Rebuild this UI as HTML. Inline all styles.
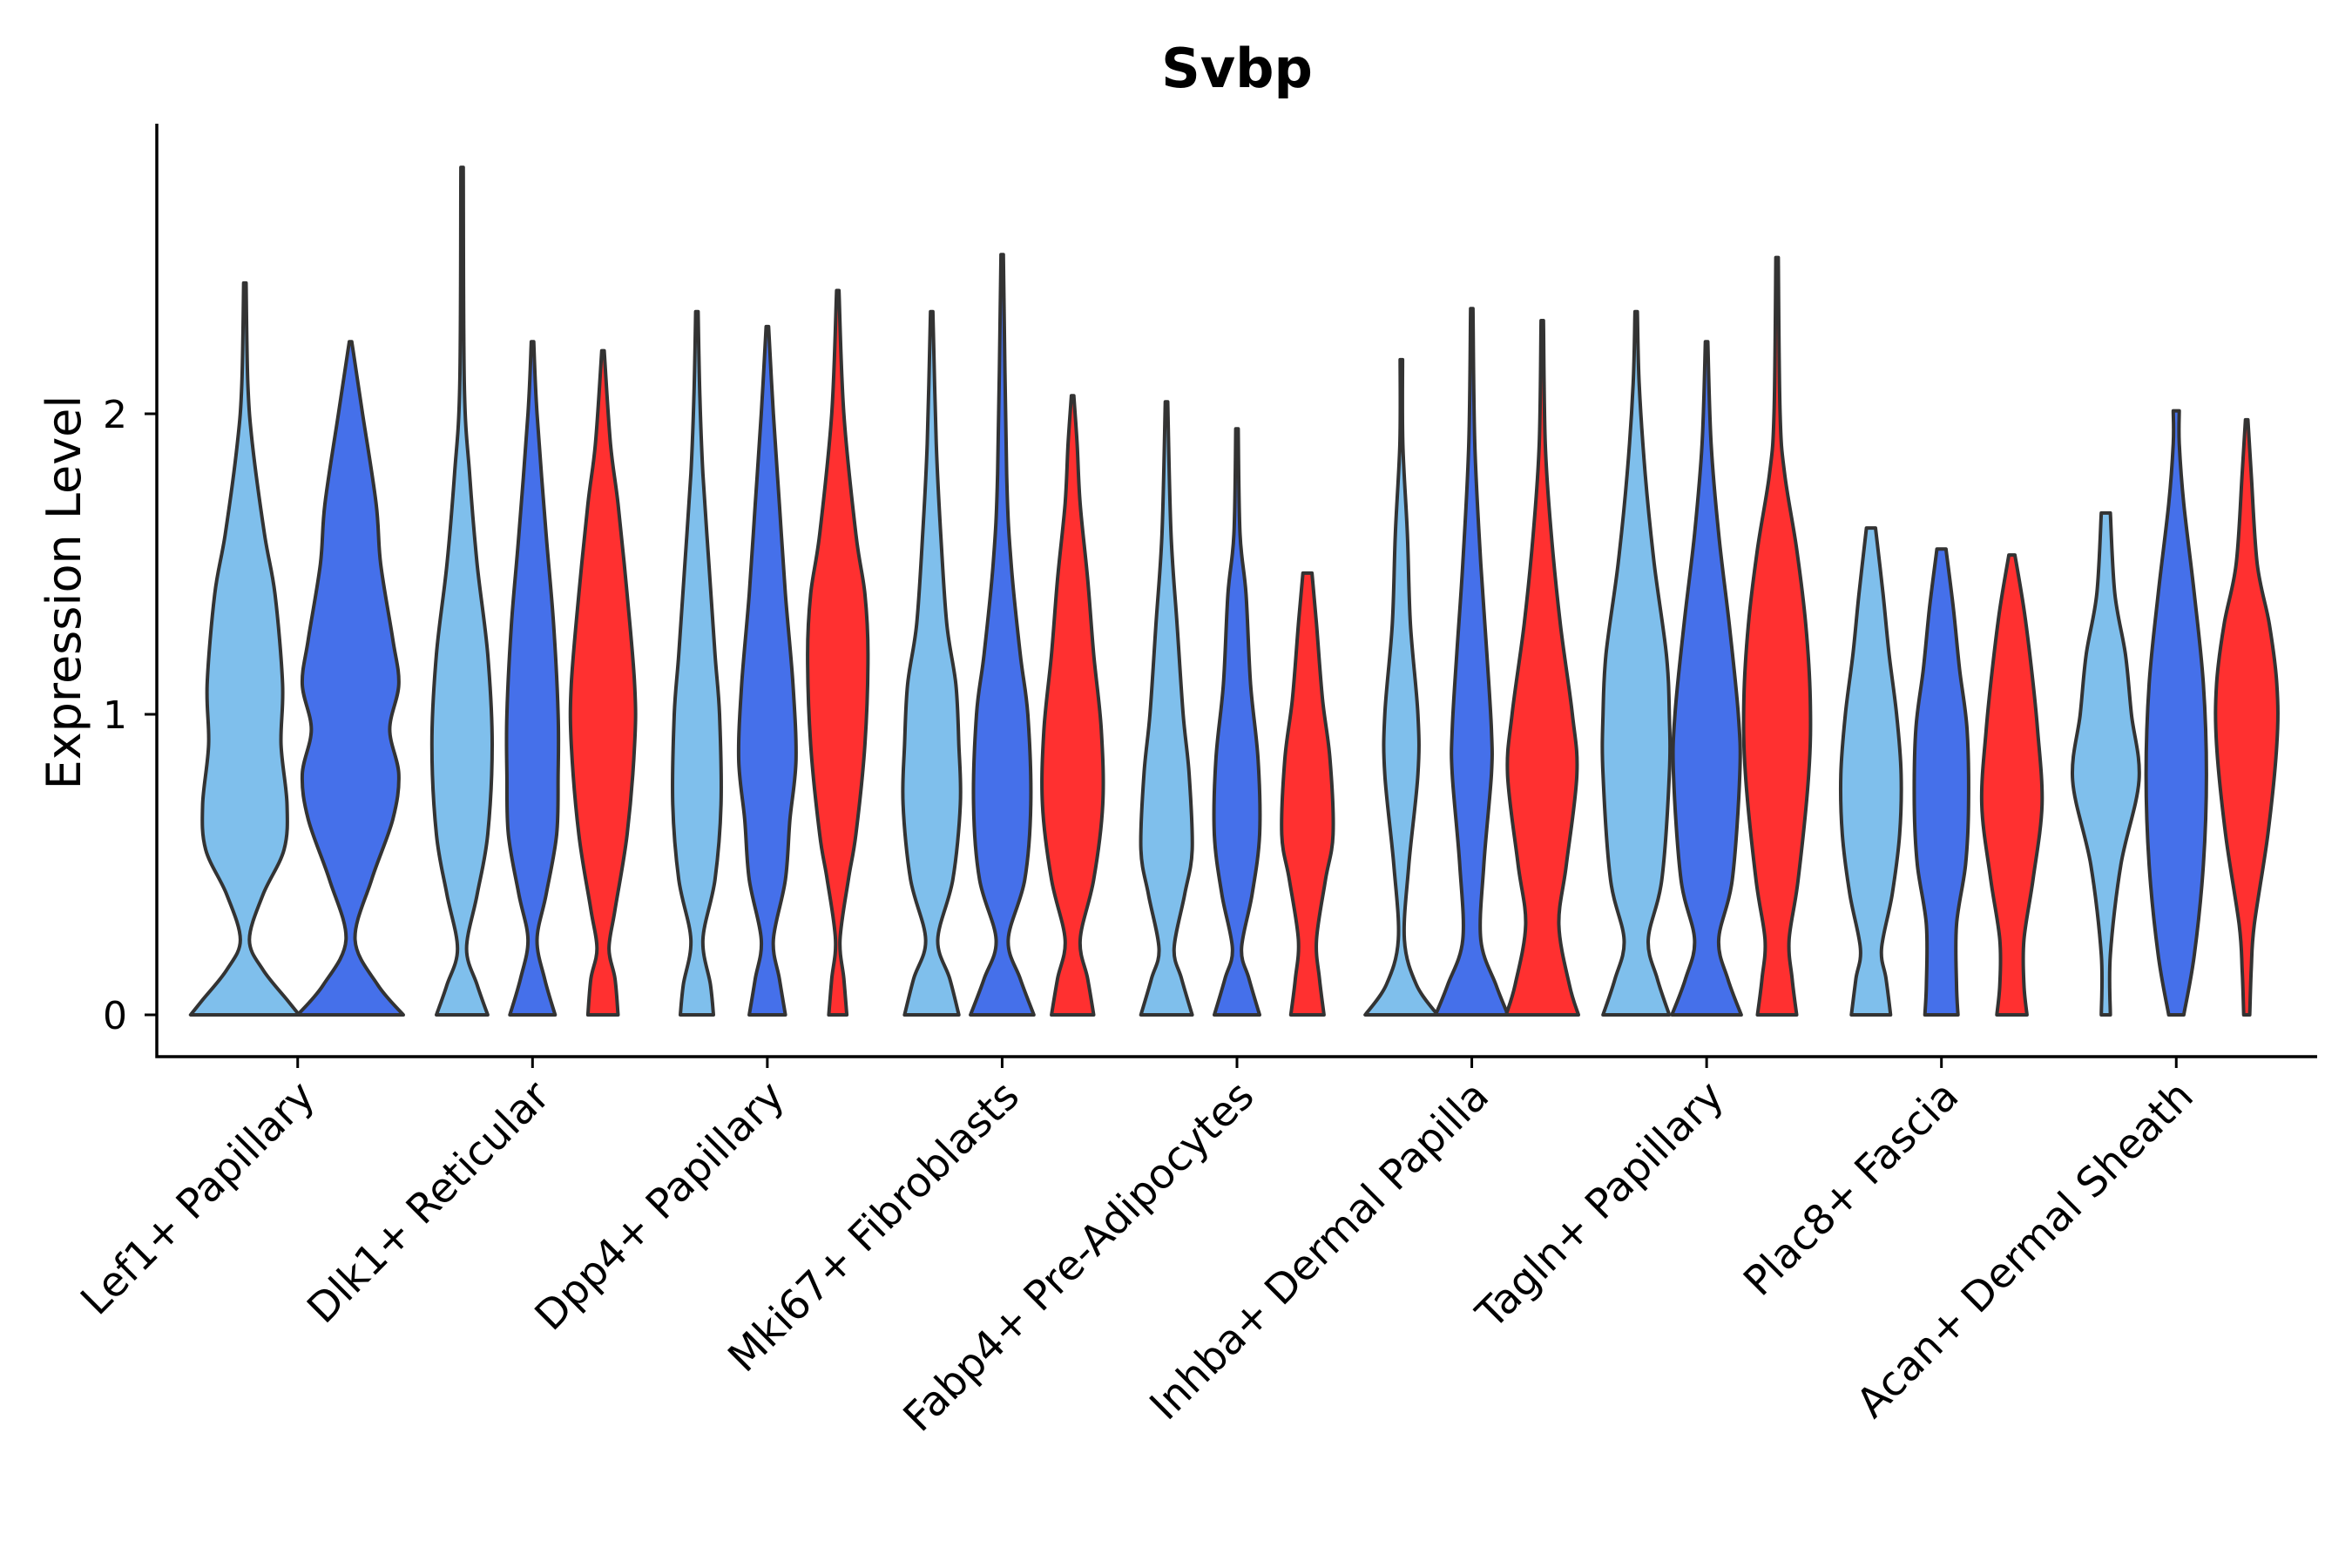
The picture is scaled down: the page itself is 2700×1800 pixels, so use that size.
<!DOCTYPE html>
<html><head><meta charset="utf-8"><style>
html,body{margin:0;padding:0;background:#fff;}
svg{display:block;font-family:"DejaVu Sans","Liberation Sans",Arial,sans-serif;}
</style></head><body>
<svg id="chart" width="2700" height="1800" viewBox="0 0 2700 1800">
<text x="1420" y="100" text-anchor="middle" font-size="62" font-weight="bold">Svbp</text>
<text transform="translate(92,680) rotate(-90)" text-anchor="middle" font-size="54">Expression Level</text>
<g id="plot"></g>
</svg>
<script>
const categories = ["Lef1+ Papillary","Dlk1+ Reticular","Dpp4+ Papillary","Mki67+ Fibroblasts","Fabp4+ Pre-Adipocytes","Inhba+ Dermal Papilla","Tagln+ Papillary","Plac8+ Fascia","Acan+ Dermal Sheath"];
const groupColors = ["#7FBFEC","#4570EA","#FF3030"];
const yTicks = [0,1,2];
const profLight = [
 [[0,36],[0.05,28],[0.15,12],[0.25,3],[0.4,12],[0.55,26],[0.7,28],[0.9,24],[1.1,25],[1.4,20],[1.6,13],[1.9,5],[2.1,2],[2.435,0.8]],
 [[0,17],[0.1,10],[0.22,3],[0.4,10],[0.6,17],[0.9,20],[1.2,17],[1.5,10],[1.8,5],[2.1,1.5],[2.82,0.8]],
 [[0,11],[0.1,9],[0.25,4],[0.45,12],[0.7,16],[1.0,15],[1.2,12],[1.5,8],[1.8,4],[2.05,2],[2.34,0.8]],
 [[0,18],[0.12,12],[0.25,4],[0.45,14],[0.7,19],[0.9,18],[1.1,16],[1.3,10],[1.6,6],[1.9,3],[2.34,0.8]],
 [[0,17],[0.12,10],[0.22,5],[0.4,12],[0.55,17],[0.8,15],[1.0,11],[1.3,7],[1.6,3],[2.04,0.8]],
 [[0,24],[0.1,10],[0.25,2],[0.5,5],[0.8,11],[1.0,11],[1.3,6],[1.6,4],[1.9,1],[2.18,0.8]],
 [[0,22],[0.12,14],[0.25,8],[0.45,17],[0.8,22],[1.0,22],[1.2,20],[1.5,12],[1.8,6],[2.1,2],[2.34,0.8]],
 [[0,13],[0.12,10],[0.22,7],[0.4,14],[0.6,19],[0.8,20],[1.0,17],[1.2,12],[1.4,8],[1.62,3]],
 [[0,3],[0.2,3],[0.5,10],[0.78,22],[1.0,17],[1.2,13],[1.4,6],[1.67,3]]
];
const profBlue = [
 [[0,35],[0.1,18],[0.25,3],[0.45,14],[0.65,28],[0.8,32],[0.95,26],[1.1,32],[1.25,28],[1.5,20],[1.7,17],[2.0,8],[2.2,2],[2.24,0.8]],
 [[0,15],[0.12,8],[0.25,3],[0.4,9],[0.6,16],[0.8,17],[1.0,17],[1.3,14],[1.6,9],[2.0,3],[2.24,0.8]],
 [[0,12],[0.12,8],[0.25,4],[0.45,12],[0.65,15],[0.85,19],[1.1,17],[1.4,12],[1.7,8],[2.0,4],[2.29,0.8]],
 [[0,21],[0.12,12],[0.25,4],[0.45,15],[0.7,19],[1.0,17],[1.2,12],[1.5,6],[1.8,3],[2.53,0.8]],
 [[0,15],[0.12,8],[0.22,3],[0.4,10],[0.6,15],[0.85,14],[1.1,9],[1.4,6],[1.6,2],[1.95,0.8]],
 [[0,24],[0.1,16],[0.25,6],[0.5,8],[0.8,13],[0.95,13],[1.2,10],[1.5,6],[1.9,2],[2.35,0.8]],
 [[0,23],[0.12,14],[0.25,8],[0.45,17],[0.8,22],[1.0,21],[1.3,15],[1.6,8],[1.9,3],[2.24,0.8]],
 [[0,11],[0.1,10],[0.3,10],[0.5,16],[0.7,18],[0.95,17],[1.15,12],[1.35,8],[1.55,3]],
 [[0,5],[0.2,12],[0.5,18],[0.8,20],[1.1,18],[1.4,12],[1.7,5],[1.9,2],[2.01,2]]
];
const profRed = [
 null,
 [[0,10],[0.12,8],[0.22,4],[0.35,8],[0.6,16],[0.9,21],[1.1,21],[1.4,16],[1.7,10],[1.9,5],[2.21,0.8]],
 [[0,6],[0.12,4],[0.25,1.5],[0.45,7],[0.6,12],[0.9,18],[1.2,20],[1.4,18],[1.6,12],[2.0,4],[2.41,0.8]],
 [[0,14],[0.12,10],[0.25,5],[0.45,14],[0.7,20],[0.95,19],[1.2,14],[1.45,10],[1.7,5],[1.9,3],[2.06,0.8]],
 [[0,11],[0.12,8],[0.25,6],[0.45,12],[0.6,17],[0.85,15],[1.05,10],[1.3,6],[1.47,3]],
 [[0,24],[0.1,18],[0.3,11],[0.5,16],[0.8,23],[1.0,20],[1.3,12],[1.6,6],[1.9,2],[2.31,0.8]],
 [[0,13],[0.12,10],[0.25,8],[0.45,14],[0.8,21],[1.05,22],[1.3,19],[1.55,13],[1.8,5],[2.0,2],[2.52,0.8]],
 [[0,10],[0.1,8],[0.25,8],[0.45,14],[0.7,20],[0.95,17],[1.15,13],[1.35,8],[1.53,2]],
 [[0,2],[0.15,3],[0.3,5],[0.6,14],[0.9,20],[1.1,20],[1.3,15],[1.5,7],[1.8,3],[1.98,0.8]]
];
const NS="http://www.w3.org/2000/svg";
const plot=document.getElementById('plot');
const X0=180, X1=2660, Y0px=1165, UNIT=345, AXY=1213, AXTOP=142;
const n=categories.length;
const catW=(X1-X0)/(n-1+1.2);
function xCat(i){return X0+(0.6+i)*catW;}
function yVal(v){return Y0px-v*UNIT;}
const hwScale=catW/155.75;
function mk(tag,attrs){const e=document.createElementNS(NS,tag);for(const k in attrs)e.setAttribute(k,attrs[k]);return e;}
function crPath(pts){
  let d="";
  for(let i=0;i<pts.length-1;i++){
    const p0=pts[Math.max(0,i-1)],p1=pts[i],p2=pts[i+1],p3=pts[Math.min(pts.length-1,i+2)];
    const c1=[p1[0]+(p2[0]-p0[0])/6,p1[1]+(p2[1]-p0[1])/6];
    const c2=[p2[0]-(p3[0]-p1[0])/6,p2[1]-(p3[1]-p1[1])/6];
    d+=` C${c1[0].toFixed(1)},${c1[1].toFixed(1)} ${c2[0].toFixed(1)},${c2[1].toFixed(1)} ${p2[0].toFixed(1)},${p2[1].toFixed(1)}`;
  }
  return d;
}
const groupNames=["light","blue","red"];
categories.forEach((c,i)=>{
  const profs=[profLight[i],profBlue[i],profRed[i]];
  const present=profs.map((p,g)=>p?g:-1).filter(g=>g>=0);
  const k=present.length, dw=0.9*catW/k;
  present.forEach((g,j)=>{
    const cx=xCat(i)-0.45*catW+dw*(j+0.5);
    const pr=profs[g];
    const right=pr.map(p=>[cx+p[1]*hwScale,yVal(p[0])]);
    const left=pr.slice().reverse().map(p=>[cx-p[1]*hwScale,yVal(p[0])]);
    let d=`M${right[0][0].toFixed(1)},${right[0][1].toFixed(1)}`+crPath(right);
    d+=` L${left[0][0].toFixed(1)},${left[0][1].toFixed(1)}`+crPath(left)+" Z";
    const path=mk('path',{d:d,fill:groupColors[g],stroke:'#333333','stroke-width':4,'stroke-linejoin':'round'});
    
    
    plot.appendChild(path);
  });
  const t=mk('line',{x1:xCat(i),x2:xCat(i),y1:AXY,y2:AXY+13,stroke:'#000','stroke-width':3});
  
  
  plot.appendChild(t);
  const lx=xCat(i)+22, ly=AXY+48;
  const lab=mk('text',{x:lx,y:ly,'text-anchor':'end','font-size':47,transform:`rotate(-45 ${lx} ${ly})`});
  lab.textContent=c;
  
  
  plot.appendChild(lab);
});
yTicks.forEach(v=>{
  const t=mk('line',{x1:166,x2:180,y1:yVal(v),y2:yVal(v),stroke:'#000','stroke-width':3});
  
  
  plot.appendChild(t);
  const l=mk('text',{x:132,y:yVal(v)+16,'text-anchor':'middle','font-size':44});
  l.textContent=v;
  
  
  plot.appendChild(l);
});
const ax=mk('path',{d:`M180,${AXTOP} L180,${AXY} L${X1},${AXY}`,fill:'none',stroke:'#000','stroke-width':3.5});


plot.appendChild(ax);
</script>
</body></html>
